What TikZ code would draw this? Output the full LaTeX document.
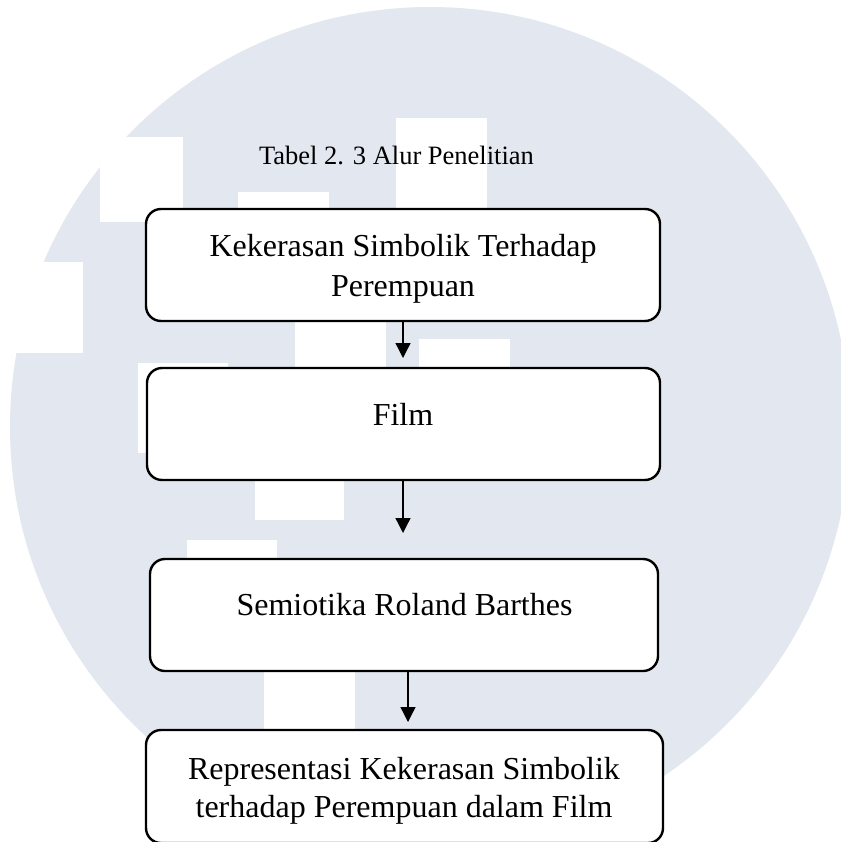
\documentclass[tikz,border=0pt]{standalone}
\usepackage{fontspec}
\setmainfont{Liberation Serif}
\usetikzlibrary{arrows.meta}
\definecolor{wmgray}{RGB}{227,231,239}
\tikzset{
  flowbox/.style={draw=black, line width=2.4pt, rounded corners=15pt, fill=white, inner sep=0pt},
  boxtext/.style={font=\fontsize{32}{40}\selectfont, align=center, inner sep=0pt},
  boxtextb/.style={font=\fontsize{32}{38}\selectfont, align=center, inner sep=0pt},
  titletext/.style={font=\fontsize{26.5}{32}\selectfont, inner sep=0pt},
  arr/.style={line width=1.3pt, -{Triangle[width=15pt,length=15pt]}},
  wmrect/.style={fill=white, draw=none}
}
\begin{document}
\begin{tikzpicture}[x=1pt,y=-1pt]
\useasboundingbox (0,0) rectangle (840,842);
\fill[white] (0,0) rectangle (840,842);
% watermark
\fill[wmgray] (430,427) circle[radius=420];
\fill[wmrect] (100,137) rectangle (183,222);
\fill[wmrect] (0,262) rectangle (83,353);
\fill[wmrect] (396,118) rectangle (487,230);
\fill[wmrect] (238,192) rectangle (329,230);
\fill[wmrect] (295,310) rectangle (386,380);
\fill[wmrect] (419,339) rectangle (510,380);
\fill[wmrect] (138,363) rectangle (228,453);
\fill[wmrect] (255,470) rectangle (344,520);
\fill[wmrect] (187,540) rectangle (277,570);
\fill[wmrect] (264,665) rectangle (355,740);
% title
\node[titletext, anchor=base] (title) at (396.5,165) {Tabel 2. 3 Alur Penelitian};
% boxes
\node[flowbox, minimum width=514pt, minimum height=112pt] (b1) at (403,265) {};
\node[flowbox, minimum width=513pt, minimum height=112pt] (b2) at (403.5,424) {};
\node[flowbox, minimum width=508pt, minimum height=112pt] (b3) at (404,615) {};
\node[flowbox, minimum width=517pt, minimum height=113pt] (b4) at (404.5,786.5) {};
% texts
\node[boxtext] (t1) at (403,268.5) {Kekerasan Simbolik Terhadap\\Perempuan};
\node[boxtext, anchor=base] (t2) at (403,425) {Film};
\node[boxtext, anchor=base] (t3) at (404.5,615) {Semiotika Roland Barthes};
\node[boxtextb] (t4) at (404,790.5) {Representasi Kekerasan Simbolik\\terhadap Perempuan dalam Film};
% arrows
\coordinate (e1) at (403,358);
\coordinate (e2) at (403,533);
\coordinate (e3) at (408,722);
\draw[arr] (b1.south -| e1) -- (e1);
\draw[arr] (b2.south -| e2) -- (e2);
\draw[arr] (b3.south -| e3) -- (e3);
\end{tikzpicture}
\end{document}
